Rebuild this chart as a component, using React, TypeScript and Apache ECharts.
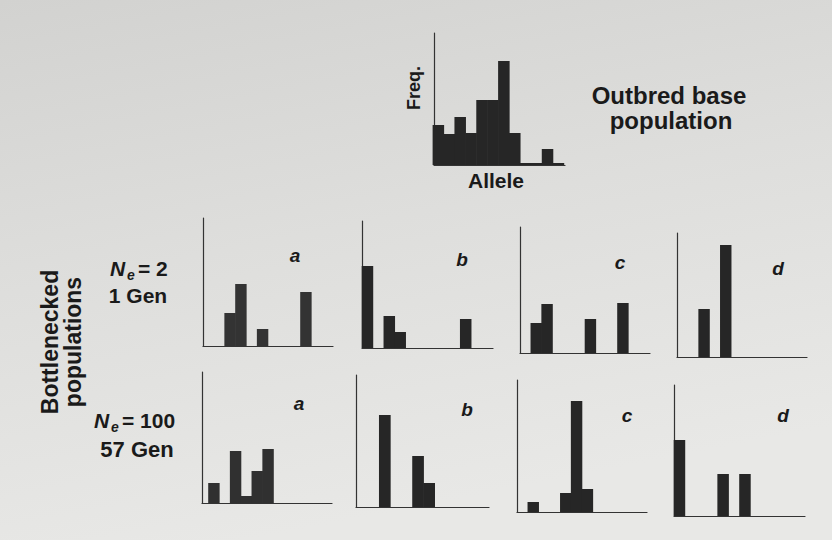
import React, { useEffect, useRef } from "react";
import * as echarts from "echarts";

// Allele-frequency histograms (12 allele classes, frequency read in plot units)
const alleleBins = [1, 2, 3, 4, 5, 6, 7, 8, 9, 10, 11, 12];
const baseFreq = [40, 31, 48, 32, 65, 65, 104, 32, 2, 2, 16, 2];

const ne2A = [0, 0, 33, 62, 0, 17, 0, 0, 0, 54, 0, 0];
const ne2B = [82, 0, 32, 16, 0, 0, 0, 0, 0, 29, 0, 0];
const ne2C = [0, 30, 49, 0, 0, 0, 34, 0, 0, 50, 0, 0];
const ne2D = [0, 0, 48, 0, 112, 0, 0, 0, 0, 0, 0, 0];

const ne100A = [20, 0, 52, 7, 32, 54, 0, 0, 0, 0, 0, 0];
const ne100B = [0, 0, 92, 0, 0, 51, 24, 0, 0, 0, 0, 0];
const ne100C = [0, 10, 0, 0, 19, 111, 23, 0, 0, 0, 0, 0];
const ne100D = [76, 0, 0, 0, 42, 0, 42, 0, 0, 0, 0, 0];

const panelLetters = ["a", "b", "c", "d"];

const FONT = "'Liberation Sans', Arial, Helvetica, sans-serif";
const INK = "#262626";

type Panel = {
  data: number[];
  left: number;
  top: number;
  width: number;
  height: number;
  offset: number;
  color: string;
};

const panels: Panel[] = [
  { data: baseFreq, left: 434, top: 33, width: 131, height: 132, offset: -0.1, color: INK },
  { data: ne2A, left: 203, top: 218, width: 130, height: 128, offset: 0, color: "#333" },
  { data: ne2B, left: 362, top: 221, width: 131, height: 127, offset: 0, color: INK },
  { data: ne2C, left: 520, top: 227, width: 130, height: 126, offset: 0, color: INK },
  { data: ne2D, left: 677, top: 233, width: 130, height: 124, offset: 0, color: INK },
  { data: ne100A, left: 202, top: 372, width: 130, height: 131, offset: 0.6, color: "#303030" },
  { data: ne100B, left: 356, top: 375, width: 133, height: 132, offset: 0.1, color: INK },
  { data: ne100C, left: 517, top: 380, width: 130, height: 132, offset: 0, color: INK },
  { data: ne100D, left: 674, top: 385, width: 131, height: 131, offset: 0, color: INK },
];

const letterPos = [
  [295, 255], [462, 259], [620, 262], [778, 268],
  [299, 403], [467, 409], [627, 415], [783, 415],
];

function buildOption() {
  const nBins = alleleBins.length;
  const grid: any[] = [];
  const xAxis: any[] = [];
  const yAxis: any[] = [];
  const series: any[] = [];
  panels.forEach((p, i) => {
    grid.push({ left: p.left, top: p.top, width: p.width, height: p.height });
    xAxis.push({
      type: "value",
      gridIndex: i,
      min: 0,
      max: nBins,
      axisLine: { show: true, onZero: false, lineStyle: { color: "#333", width: 1.2 } },
      axisTick: { show: false },
      axisLabel: { show: false },
      splitLine: { show: false },
    });
    yAxis.push({
      type: "value",
      gridIndex: i,
      min: 0,
      max: p.height,
      axisLine: { show: true, lineStyle: { color: "#333", width: 1.2 } },
      axisTick: { show: false },
      axisLabel: { show: false },
      splitLine: { show: false },
    });
    series.push({
      type: "bar",
      xAxisIndex: i,
      yAxisIndex: i,
      barWidth: p.width / nBins + 0.6,
      itemStyle: { color: p.color },
      data: p.data
        .map((v, k) => [k + 0.5 + p.offset, v])
        .filter((d) => d[1] > 0),
    });
  });

  const txt = (
    text: string,
    x: number,
    y: number,
    size: number,
    opts: any = {}
  ) => ({
    type: "text",
    x,
    y,
    rotation: opts.rotation || 0,
    style: {
      text,
      fill: "#1a1a1a",
      font: `${opts.italic ? "italic " : ""}bold ${size}px ${FONT}`,
      align: opts.align || "center",
      verticalAlign: "middle",
    },
  });

  const graphic: any[] = [
    txt("Freq.", 414, 88, 18, { rotation: Math.PI / 2 }),
    txt("Allele", 496, 180, 21),
    txt("Outbred base", 669, 95, 24),
    txt("population", 671, 120, 24),
    txt("Bottlenecked", 50, 342, 23, { rotation: Math.PI / 2 }),
    txt("populations", 73, 342, 23, { rotation: Math.PI / 2 }),
    // Ne = 2, 1 Gen
    txt("N", 110, 268, 21, { italic: true, align: "left" }),
    txt("e", 127, 275, 14, { italic: true, align: "left" }),
    txt("= 2", 138, 268, 21, { align: "left" }),
    txt("1 Gen", 138, 295, 21),
    // Ne = 100, 57 Gen
    txt("N", 94, 420, 21, { italic: true, align: "left" }),
    txt("e", 111, 427, 14, { italic: true, align: "left" }),
    txt("= 100", 122, 420, 21, { align: "left" }),
    txt("57 Gen", 137, 449, 22),
  ];
  letterPos.forEach((pos, i) => {
    graphic.push(txt(panelLetters[i % 4], pos[0], pos[1], 19, { italic: true }));
  });

  return {
    animation: false,
    backgroundColor: {
      type: "linear",
      x: 0,
      y: 0,
      x2: 0.3,
      y2: 1,
      colorStops: [
        { offset: 0, color: "#d2d2d0" },
        { offset: 0.5, color: "#dededc" },
        { offset: 1, color: "#e8e8e6" },
      ],
    },
    grid,
    xAxis,
    yAxis,
    series,
    graphic,
  };
}

export default function App() {
  const ref = useRef<HTMLDivElement>(null);
  useEffect(() => {
    if (!ref.current) return;
    const chart = echarts.init(ref.current, undefined, { renderer: "svg" });
    chart.setOption(buildOption() as any);
    return () => chart.dispose();
  }, []);
  return (
    <div
      ref={ref}
      style={{ position: "absolute", left: 0, top: 0, width: 832, height: 540 }}
    />
  );
}
